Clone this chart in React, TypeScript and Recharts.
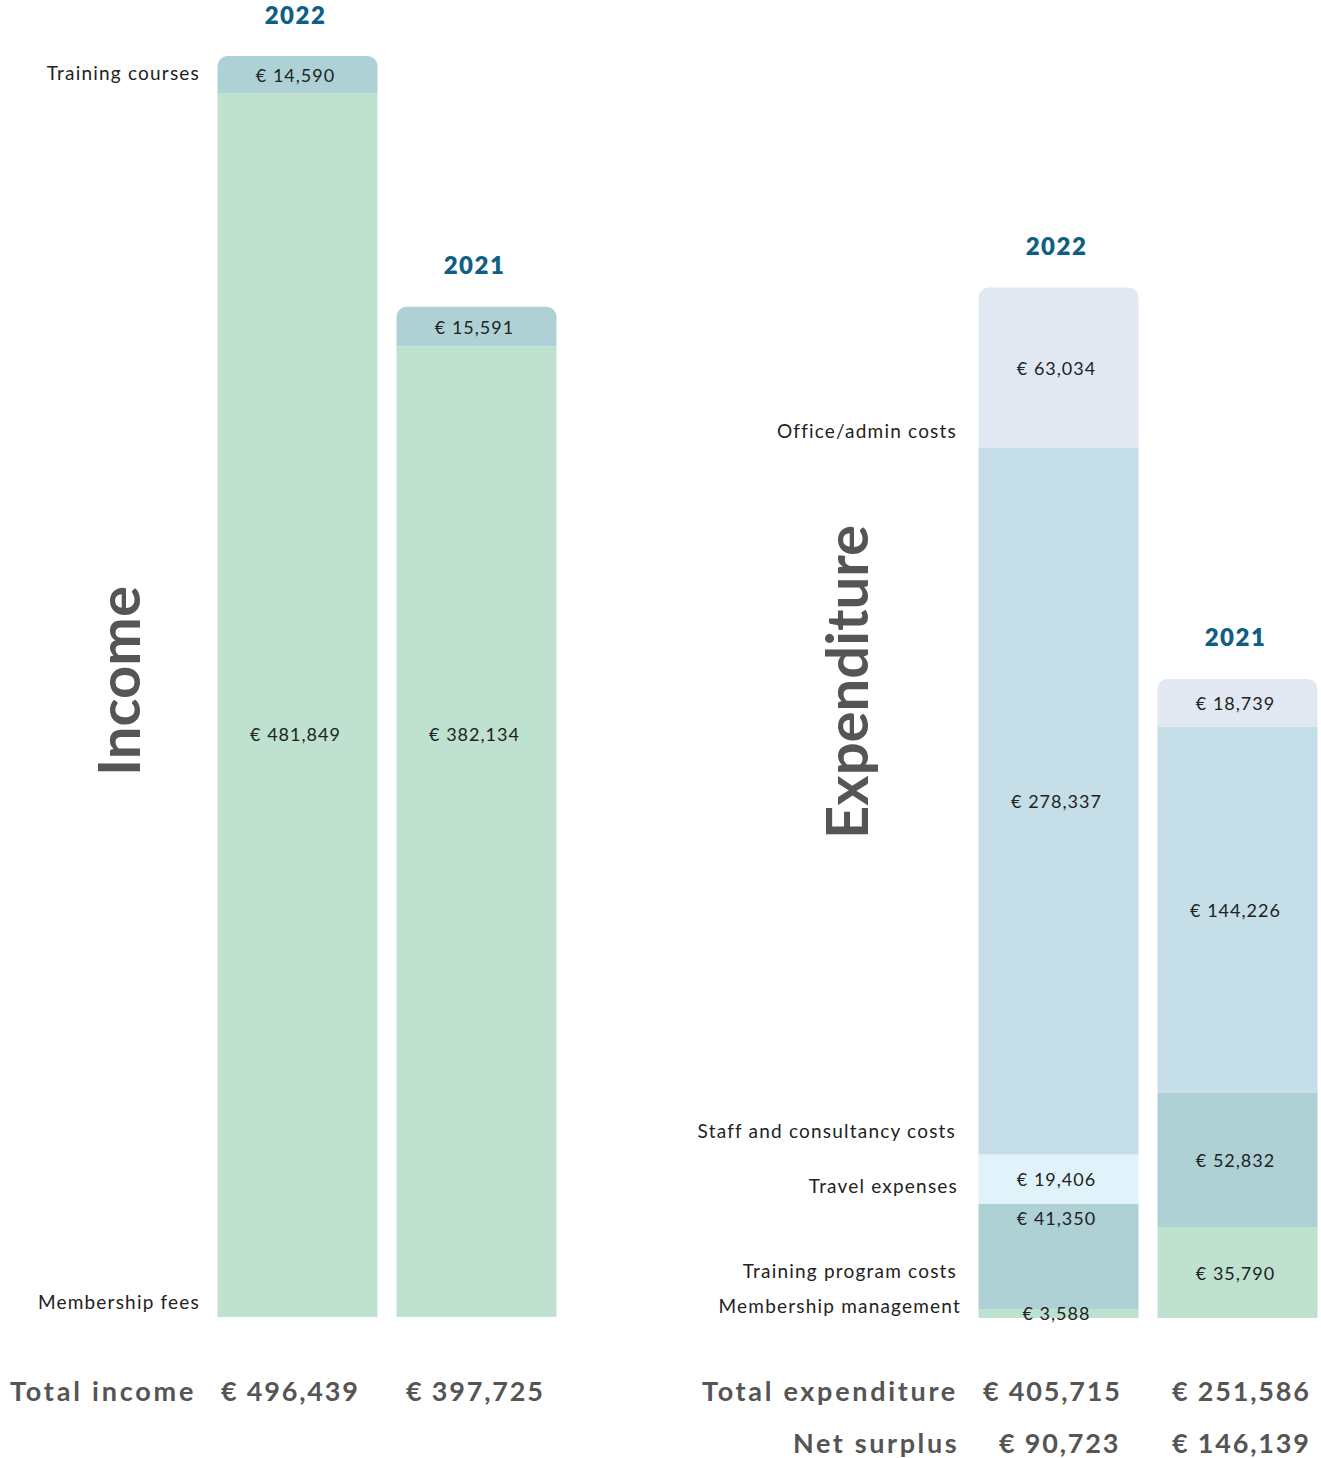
import React from 'react';
import { BarChart, Bar, XAxis, YAxis, LabelList } from 'recharts';

const years = ['2022', '2021'];

// income
const membershipFees = [481849, 382134];
const trainingCourses = [14590, 15591];

// expenditure
const membershipMgmt = [3588, 35790];
const trainingProgram = [41350, 52832];
const travelExpenses = [19406, 0];
const staffCosts = [278337, 144226];
const officeCosts = [63034, 18739];

const totalIncome = ['€ 496,439', '€ 397,725'];
const totalExpenditure = ['€ 405,715', '€ 251,586'];
const netSurplus = ['€ 90,723', '€ 146,139'];

const MAX = 496439;

const incomeData = years.map((year, i) => ({
  year,
  membershipFees: membershipFees[i],
  trainingCourses: trainingCourses[i],
}));

const expenseData = years.map((year, i) => ({
  year,
  membershipMgmt: membershipMgmt[i],
  trainingProgram: trainingProgram[i],
  travelExpenses: travelExpenses[i],
  staffCosts: staffCosts[i],
  officeCosts: officeCosts[i],
}));

const fmt = (v: number) => `€ ${v.toLocaleString('en-US')}`;

type LabelOpts = { topFirst?: boolean; fixedY?: number };

// value inside a segment; centred unless told otherwise
const valueLabel = (opts: LabelOpts = {}) => (props: any) => {
  const { x, y, width, height, value, index } = props;
  if (!value) return null;
  let cy = y + height / 2;
  if (opts.topFirst && index === 0) cy = y + 14;
  if (opts.fixedY !== undefined) cy = opts.fixedY;
  return (
    <text
      x={x + width / 2 - 2}
      y={cy}
      textAnchor="middle"
      dominantBaseline="central"
      fill="#222"
      fontFamily="Lato"
      fontSize={18}
      letterSpacing={1}
    >
      {fmt(value)}
    </text>
  );
};

const yearLabel = (props: any) => {
  const { x, y, width, value } = props;
  return (
    <text
      x={x + width / 2 - 2}
      y={y - 42}
      textAnchor="middle"
      dominantBaseline="central"
      fill="#0f5f85"
      fontFamily="Lato"
      fontWeight={800}
      fontSize={24}
      letterSpacing={1.5}
    >
      {value}
    </text>
  );
};

const catStyle: React.CSSProperties = {
  position: 'absolute',
  fontFamily: 'Lato',
  fontSize: 19,
  letterSpacing: 1.2,
  color: '#222',
  whiteSpace: 'nowrap',
  transform: 'translate(-100%, -50%)',
};

const totalStyle: React.CSSProperties = {
  position: 'absolute',
  fontFamily: 'Lato',
  fontWeight: 700,
  fontSize: 27,
  lineHeight: 1,
  letterSpacing: 1.8,
  color: '#555',
  whiteSpace: 'nowrap',
  transform: 'translateY(-50%)',
};

const titleStyle: React.CSSProperties = {
  position: 'absolute',
  fontFamily: 'Lato',
  fontWeight: 700,
  fontSize: 58,
  color: '#555',
  whiteSpace: 'nowrap',
  transform: 'translate(-50%, -50%) rotate(-90deg)',
};

const Cat = ({ x, y, children }: { x: number; y: number; children: React.ReactNode }) => (
  <div style={{ ...catStyle, left: x, top: y }}>{children}</div>
);

const Total = ({ x, y, spacing, children }: { x: number; y: number; spacing?: number; children: React.ReactNode }) => (
  <div style={{ ...totalStyle, left: x, top: y, ...(spacing ? { letterSpacing: spacing } : {}) }}>{children}</div>
);

export default function App() {
  return (
    <div
      style={{
        position: 'absolute',
        left: 0,
        top: 0,
        width: 1321,
        height: 1458,
        overflow: 'hidden',
        background: '#fff',
      }}
    >
      {/* Income chart */}
      <div style={{ position: 'absolute', left: 0, top: 0 }}>
        <BarChart
          width={600}
          height={1340}
          data={incomeData}
          margin={{ top: 56, bottom: 23, left: 207.5, right: 34.5 }}
        >
          <XAxis dataKey="year" hide />
          <YAxis hide width={0} domain={[0, MAX]} allowDataOverflow />
          <Bar dataKey="membershipFees" stackId="a" fill="#bfe1cf" barSize={160} isAnimationActive={false}>
            <LabelList dataKey="membershipFees" content={valueLabel({ fixedY: 734 })} />
          </Bar>
          <Bar
            dataKey="trainingCourses"
            stackId="a"
            fill="#aed1d6"
            barSize={160}
            radius={[10, 10, 0, 0]}
            isAnimationActive={false}
          >
            <LabelList dataKey="trainingCourses" content={valueLabel()} />
            <LabelList dataKey="year" content={yearLabel} />
          </Bar>
        </BarChart>
      </div>

      {/* Expenditure chart */}
      <div style={{ position: 'absolute', left: 700, top: 0 }}>
        <BarChart
          width={640}
          height={1340}
          data={expenseData}
          margin={{ top: 57, bottom: 22, left: 268.5, right: 13.5 }}
        >
          <XAxis dataKey="year" hide />
          <YAxis hide width={0} domain={[0, MAX]} allowDataOverflow />
          <Bar dataKey="membershipMgmt" stackId="a" fill="#bfe1cf" barSize={160} isAnimationActive={false}>
            <LabelList dataKey="membershipMgmt" content={valueLabel()} />
          </Bar>
          <Bar dataKey="trainingProgram" stackId="a" fill="#aed1d6" barSize={160} isAnimationActive={false}>
            <LabelList dataKey="trainingProgram" content={valueLabel({ topFirst: true })} />
          </Bar>
          <Bar dataKey="travelExpenses" stackId="a" fill="#e0f3fa" barSize={160} isAnimationActive={false}>
            <LabelList dataKey="travelExpenses" content={valueLabel()} />
          </Bar>
          <Bar dataKey="staffCosts" stackId="a" fill="#c5dee7" barSize={160} isAnimationActive={false}>
            <LabelList dataKey="staffCosts" content={valueLabel()} />
          </Bar>
          <Bar
            dataKey="officeCosts"
            stackId="a"
            fill="#e1e8f2"
            barSize={160}
            radius={[10, 10, 0, 0]}
            isAnimationActive={false}
          >
            <LabelList dataKey="officeCosts" content={valueLabel()} />
            <LabelList dataKey="year" content={yearLabel} />
          </Bar>
        </BarChart>
      </div>

      {/* side titles */}
      <div style={{ ...titleStyle, left: 117, top: 681 }}>Income</div>
      <div style={{ ...titleStyle, left: 845, top: 682 }}>Expenditure</div>

      {/* category labels */}
      <Cat x={200} y={72}>Training courses</Cat>
      <Cat x={200} y={1301}>Membership fees</Cat>
      <Cat x={957} y={430}>Office/admin costs</Cat>
      <Cat x={956} y={1130}>Staff and consultancy costs</Cat>
      <Cat x={958} y={1185}>Travel expenses</Cat>
      <Cat x={957} y={1270}>Training program costs</Cat>
      <Cat x={961} y={1305}>Membership management</Cat>

      {/* totals */}
      <Total x={10} y={1390} spacing={2.8}>Total income</Total>
      <Total x={221} y={1390}>{totalIncome[0]}</Total>
      <Total x={406} y={1390}>{totalIncome[1]}</Total>
      <Total x={702} y={1390} spacing={2.7}>Total expenditure</Total>
      <Total x={983} y={1390}>{totalExpenditure[0]}</Total>
      <Total x={1172} y={1390}>{totalExpenditure[1]}</Total>
      <Total x={793} y={1442} spacing={2.6}>Net surplus</Total>
      <Total x={999} y={1442}>{netSurplus[0]}</Total>
      <Total x={1172} y={1442}>{netSurplus[1]}</Total>
    </div>
  );
}
